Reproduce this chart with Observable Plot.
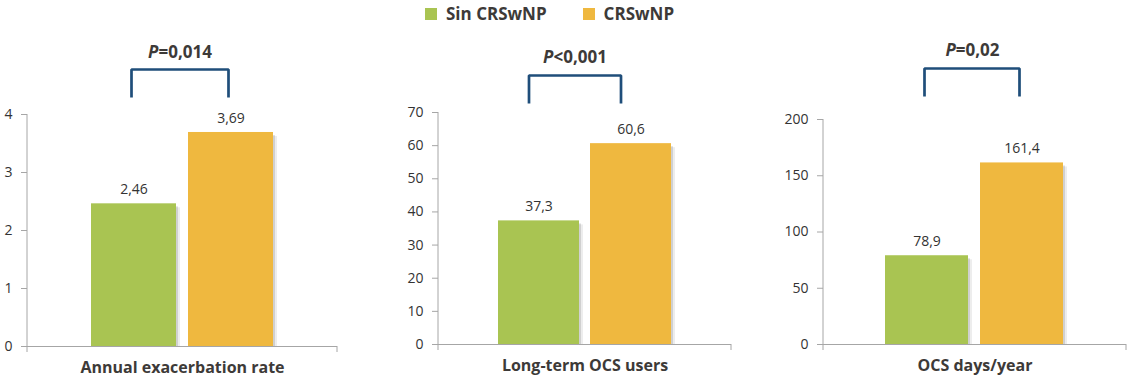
<!DOCTYPE html>
<html><head><meta charset="utf-8">
<script src="https://cdn.jsdelivr.net/npm/d3@7"></script>
<script src="https://cdn.jsdelivr.net/npm/@observablehq/plot@0.6"></script>
<style>
body{margin:0;background:#fff;font-family:"Open Sans",sans-serif;}
#wrap{position:relative;width:1129px;height:385px;overflow:hidden;background:#fff;}
#wrap svg{position:absolute;top:0;}
.legend{position:absolute;top:2px;left:425px;display:flex;align-items:center;font-weight:700;font-size:17px;color:#3d3a38;white-space:nowrap;}
.legend .sw{display:inline-block;width:12px;height:12px;margin-right:9px;}
.legend .item{display:flex;align-items:center;margin-right:36px;}
</style></head><body><div id="wrap"></div>
<script>
const groups = ["Sin CRSwNP", "CRSwNP"];
const groupColors = ["#a9c452", "#efb83f"];
const panelTitles = ["Annual exacerbation rate", "Long-term OCS users", "OCS days/year"];
const sinValues = [2.46, 37.3, 78.9];
const crsValues = [3.69, 60.6, 161.4];
const pLabels = ["P=0,014", "P<0,001", "P=0,02"];
const yMax = [4, 70, 200];
const yTicks = [[0, 1, 2, 3, 4], [0, 10, 20, 30, 40, 50, 60, 70], [0, 50, 100, 150, 200]];

// layout (pixels)
const layout = [
  {left: 0,   width: 380, ml: 27, mr: 43, y0: 346, yTop: 114, brTop: 69, brBot: 97,  pY: 52, dx: -2.5},
  {left: 380, width: 380, ml: 58, mr: 29, y0: 344, yTop: 112, brTop: 75, brBot: 103, pY: 57, dx: -10},
  {left: 760, width: 369, ml: 63, mr: 3,  y0: 344, yTop: 119, brTop: 68, brBot: 96,  pY: 50, dx: -2.5}
];
const H = 385;
const textColor = "#3d3a38";
const axisColor = "#a6a6a6";
const fmt = v => String(v).replace(".", ",");

const wrap = document.getElementById("wrap");

// legend
const legend = document.createElement("div");
legend.className = "legend";
groups.forEach((g, i) => {
  const it = document.createElement("span");
  it.className = "item";
  const sw = document.createElement("span");
  sw.className = "sw";
  sw.style.background = groupColors[i];
  it.append(sw, document.createTextNode(g));
  legend.append(it);
});
wrap.append(legend);

panelTitles.forEach((title, i) => {
  const L = layout[i];
  const data = [
    {group: groups[0], value: sinValues[i]},
    {group: groups[1], value: crsValues[i]}
  ];
  const toVal = px => (L.y0 - px) / (L.y0 - L.yTop) * yMax[i];
  const bTop = toVal(L.brTop), bBot = toVal(L.brBot), pYv = toVal(L.pY);
  const bracket = [
    {group: groups[0], v: bBot}, {group: groups[0], v: bTop},
    {group: groups[1], v: bTop}, {group: groups[1], v: bBot}
  ];
  // axis frame lines: left axis line and end ticks of the bottom axis
  const frameLines = (index, scales, values, dims) => {
    const g = d3.create("svg:g").attr("stroke", axisColor).attr("fill", "none");
    const yb = dims.height - dims.marginBottom;
    const yt = dims.marginTop;
    g.append("line").attr("x1", dims.marginLeft).attr("x2", dims.marginLeft).attr("y1", yt).attr("y2", yb);
    for (const x of [dims.marginLeft, dims.width - dims.marginRight]) {
      g.append("line").attr("x1", x).attr("x2", x).attr("y1", yb).attr("y2", yb + 6);
    }
    return g.node();
  };
  const svg = Plot.plot({
    width: L.width, height: H,
    marginLeft: L.ml, marginRight: L.mr, marginTop: L.yTop, marginBottom: H - L.y0,
    style: {fontFamily: "'Open Sans', sans-serif", fontSize: "14px", color: "#333", background: "transparent", overflow: "visible"},
    x: {domain: groups, paddingInner: 0.125, paddingOuter: 0.65, axis: null},
    y: {domain: [0, yMax[i]], axis: null},
    color: {domain: groups, range: groupColors},
    marks: [
      Plot.barY(data, {x: "group", y: "value", dx: 4, insetTop: 4, fill: "#000", fillOpacity: 0.07}),
      Plot.barY(data, {x: "group", y: "value", dx: 2, insetTop: 3, fill: "#000", fillOpacity: 0.12}),
      Plot.barY(data, {x: "group", y: "value", fill: "group"}),
      Plot.ruleY([0], {stroke: axisColor}),
      Plot.axisY({ticks: yTicks[i], tickSize: 6, tickPadding: 9, stroke: axisColor, fill: "#333", fontSize: 14, label: null, tickFormat: d => d}),
      frameLines,
      Plot.text(data, {x: "group", y: "value", text: d => fmt(d.value), dy: -14, fill: "#333", fontSize: 14}),
      Plot.line(bracket, {x: "group", y: "v", dx: L.dx, stroke: "#1f4e7a", strokeWidth: 2.7, strokeLinejoin: "miter", strokeLinecap: "butt"}),
      Plot.text([pLabels[i]], {y: () => pYv, frameAnchor: "middle", dx: L.dx, text: d => d, fontWeight: "bold", fontSize: 17, fill: textColor, ariaDescription: "pvalue"}),
      Plot.text([title], {frameAnchor: "bottom", dy: 26, text: d => d, fontWeight: "bold", fontSize: 16, fill: textColor})
    ]
  });
  svg.style.left = L.left + "px";
  // italic P
  svg.querySelectorAll('g[aria-description="pvalue"] text').forEach(t => {
    const s = t.textContent;
    t.textContent = "";
    const ns = "http://www.w3.org/2000/svg";
    const a = document.createElementNS(ns, "tspan");
    a.setAttribute("font-style", "italic");
    a.textContent = s[0];
    const b = document.createElementNS(ns, "tspan");
    b.textContent = s.slice(1);
    t.append(a, b);
  });
  wrap.append(svg);
});
</script>
</body></html>
